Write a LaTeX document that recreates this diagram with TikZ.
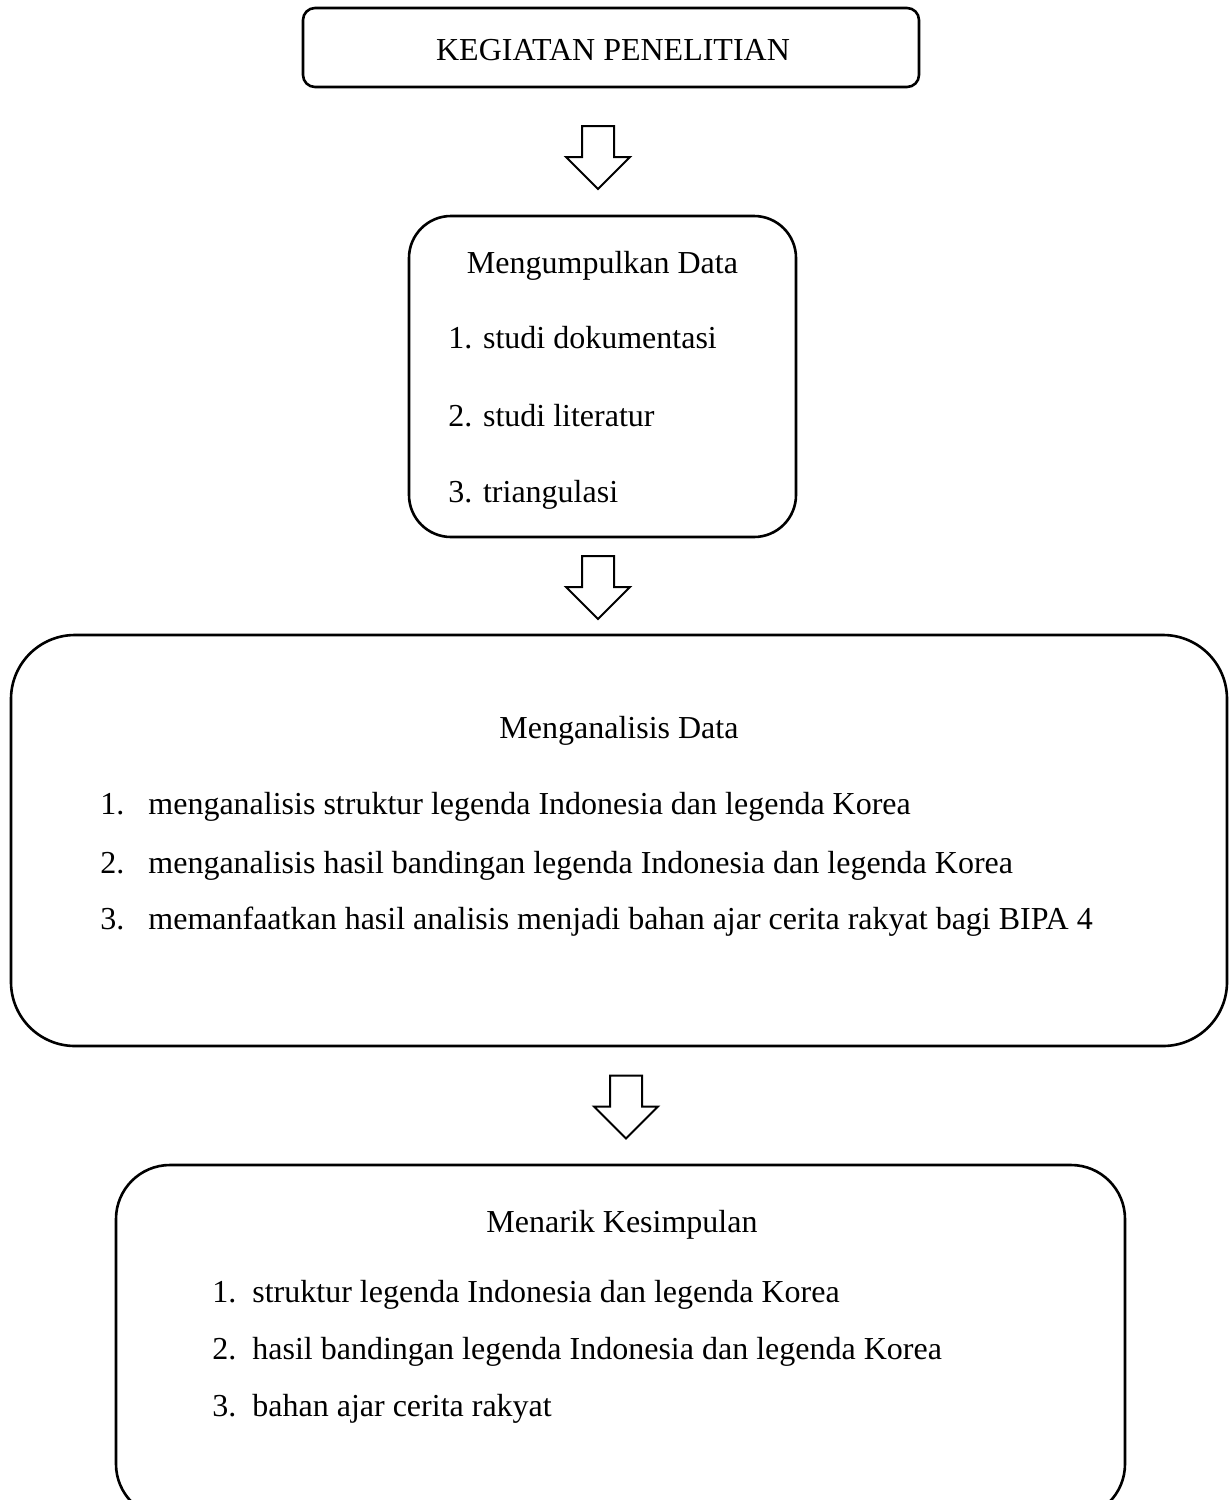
\documentclass[tikz,border=0pt]{standalone}
\usepackage{fontspec}
\setmainfont{Liberation Serif}
\usetikzlibrary{positioning,shapes.arrows}

\begin{document}
\begin{tikzpicture}[x=0.5pt, y=-0.5pt,
  font=\fontsize{16}{19}\selectfont,
  box/.style={draw, line width=1.3pt, inner sep=0pt},
  tit/.style={anchor=base, inner sep=0pt},
  itm/.style={anchor=base west, inner sep=0pt},
  blk/.style={draw, line width=1pt, single arrow, shape border rotate=270, minimum height=31.5pt, single arrow head extend=8pt, inner sep=7.5pt}]
  \useasboundingbox (0,0) rectangle (1230,1500);
  \clip (0,0) rectangle (1230,1500);

  \node[box, rounded corners=6pt, minimum width=308pt, minimum height=39.5pt] (keg) at (611,47.5) {};
  \node[tit] (kegt) at (613,60) {KEGIATAN PENELITIAN};

  \node[blk] (a1) at (598,149.5) {};

  \node[box, rounded corners=21pt, minimum width=193.5pt, minimum height=160.5pt] (kump) at (602.5,376.5) {};
  \node[tit] (kumpt) at (602.5,273) {Mengumpulkan Data};
  \node[itm] (k1) at (448,348) {1. studi dokumentasi};
  \node[itm] (k2) at (448,426) {2. studi literatur};
  \node[itm] (k3) at (448,502) {3. triangulasi};

  \node[blk] (a2) at (598,579.5) {};

  \node[box, rounded corners=32pt, minimum width=608pt, minimum height=205.5pt] (anl) at (619,840.5) {};
  \node[tit] (anlt) at (619,738) {Menganalisis Data};
  \node[itm] (n1) at (100,814) {\makebox[24pt][l]{1.}menganalisis struktur legenda Indonesia dan legenda Korea};
  \node[itm] (n2) at (100,873) {\makebox[24pt][l]{2.}menganalisis hasil bandingan legenda Indonesia dan legenda Korea};
  \node[itm] (n3) at (100,929) {\makebox[24pt][l]{3.}memanfaatkan hasil analisis menjadi bahan ajar cerita rakyat bagi BIPA 4};

  \node[blk] (a3) at (626,1099) {};

  \node[box, rounded corners=27pt, minimum width=504.5pt, minimum height=176.5pt] (simp) at (620.5,1341.5) {};
  \node[tit] (simpt) at (622,1232) {Menarik Kesimpulan};
  \node[itm] (s1) at (212,1302) {\makebox[20pt][l]{1.}struktur legenda Indonesia dan legenda Korea};
  \node[itm] (s2) at (212,1359) {\makebox[20pt][l]{2.}hasil bandingan legenda Indonesia dan legenda Korea};
  \node[itm] (s3) at (212,1416) {\makebox[20pt][l]{3.}bahan ajar cerita rakyat};
\end{tikzpicture}
\end{document}
